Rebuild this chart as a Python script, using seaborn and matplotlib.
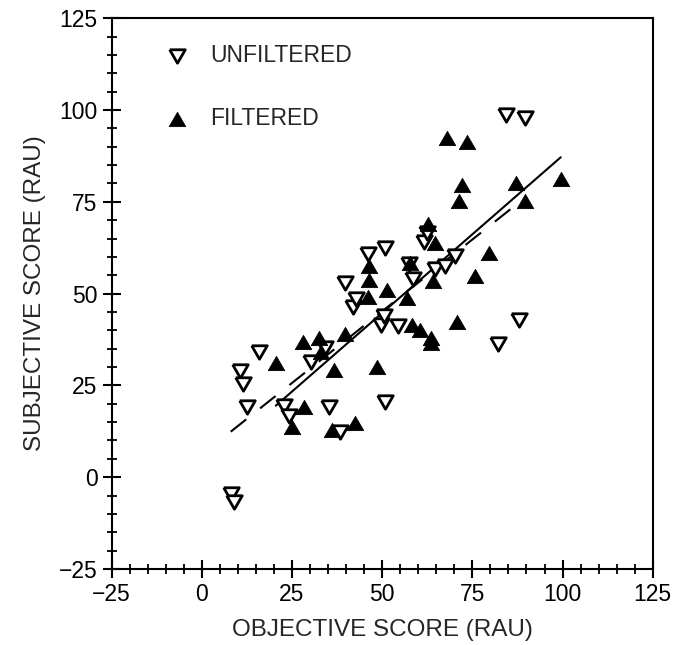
import matplotlib
matplotlib.use("Agg")
import matplotlib.pyplot as plt
from matplotlib.ticker import MultipleLocator
import seaborn as sns
import pandas as pd

# Unfiltered condition (open down-triangles)
unf_x = [8.0, 9.0, 10.6, 11.3, 12.4, 15.7, 22.9, 24.2, 30.3, 34.0, 35.3, 38.3,
         39.8, 41.8, 42.8, 46.0, 49.7, 50.6, 50.9, 50.9, 54.3, 57.5, 58.5, 61.5,
         62.5, 64.5, 67.3, 70.1, 82.1, 84.3, 87.9, 89.5]
unf_y = [-4.5, -6.7, 29.0, 25.3, 19.2, 34.0, 19.4, 16.7, 31.5, 35.2, 19.2, 12.4,
         52.9, 46.4, 48.4, 60.7, 41.5, 43.8, 62.5, 20.6, 41.1, 58.0, 54.0, 64.0,
         66.5, 56.6, 57.5, 60.2, 36.3, 98.6, 42.7, 97.7]

# Filtered condition (solid up-triangles)
fil_x = [20.5, 25.0, 28.2, 27.9, 32.5, 33.0, 36.0, 36.5, 39.6, 42.5, 46.0, 46.4,
         46.4, 48.5, 51.4, 56.9, 57.6, 58.3, 60.4, 62.7, 63.6, 63.6, 64.0, 64.5,
         67.9, 70.8, 71.3, 72.1, 73.5, 75.8, 79.6, 87.0, 89.5, 99.5]
fil_y = [31.1, 13.7, 19.0, 36.7, 37.9, 34.0, 12.8, 29.1, 39.0, 14.8, 49.1, 53.8,
         57.5, 30.0, 51.1, 48.8, 58.4, 41.5, 40.2, 68.9, 37.9, 36.5, 53.4, 63.8,
         92.3, 42.2, 75.2, 79.5, 91.4, 54.7, 61.1, 80.0, 75.2, 81.1]

labels = ["UNFILTERED", "FILTERED"]
x_ticks = [-25, 0, 25, 50, 75, 100, 125]
y_ticks = [-25, 0, 25, 50, 75, 100, 125]

unf = pd.DataFrame({"x": unf_x, "y": unf_y})
fil = pd.DataFrame({"x": fil_x, "y": fil_y})

# equilateral triangle markers
tri_up = [(-1.0, -0.866), (1.0, -0.866), (0.0, 0.866), (-1.0, -0.866)]
tri_down = [(-1.0, 0.866), (1.0, 0.866), (0.0, -0.866), (-1.0, 0.866)]

sns.set_theme(style="white")
plt.rcParams["font.family"] = ["Liberation Sans", "DejaVu Sans"]

fig = plt.figure(figsize=(6.75, 6.45), dpi=100)
ax = fig.add_axes([0.1655, 0.1178, 0.8015, 0.854])

sns.regplot(data=unf, x="x", y="y", ax=ax, ci=None, scatter=False, truncate=True,
            line_kws=dict(color="black", lw=1.5, linestyle=(0, (9.5, 8.5))))
sns.regplot(data=fil, x="x", y="y", ax=ax, ci=None, scatter=False, truncate=True,
            line_kws=dict(color="black", lw=1.5, linestyle="-"))

sns.scatterplot(data=unf, x="x", y="y", ax=ax, marker=tri_down, s=125,
                facecolor="white", edgecolor="black", linewidth=2.0,
                label=labels[0], zorder=3)
sns.scatterplot(data=fil, x="x", y="y", ax=ax, marker=tri_up, s=140,
                color="black", edgecolor="black", linewidth=0.6,
                label=labels[1], zorder=4)

ax.set_xlim(-25, 125)
ax.set_ylim(-25, 125)
ax.set_xticks(x_ticks)
ax.set_yticks(y_ticks)
ax.set_xticklabels(["\u221225" if t < 0 else str(t) for t in x_ticks])
ax.set_yticklabels(["\u221225" if t < 0 else str(t) for t in y_ticks])
ax.xaxis.set_minor_locator(MultipleLocator(5))
ax.yaxis.set_minor_locator(MultipleLocator(5))
ax.tick_params(which="major", direction="inout", length=12.5, width=1.5,
               labelsize=16.5, color="black", labelcolor="black",
               bottom=True, left=True, top=False, right=False, pad=4)
ax.tick_params(which="minor", direction="inout", length=6.5, width=1.3,
               color="black", bottom=True, left=True, top=False, right=False)
for sp in ax.spines.values():
    sp.set_color("black")
    sp.set_linewidth(1.5)

ax.set_xlabel("OBJECTIVE SCORE (RAU)", fontsize=17.5, labelpad=9)
ax.set_ylabel("SUBJECTIVE SCORE (RAU)", fontsize=17.5, labelpad=9)

leg = ax.legend(loc="upper left", bbox_to_anchor=(0.04, 0.99), frameon=False,
                fontsize=16.5, labelspacing=1.75, handletextpad=0.45,
                markerscale=1.0)

fig.savefig("out.png", dpi=100)
